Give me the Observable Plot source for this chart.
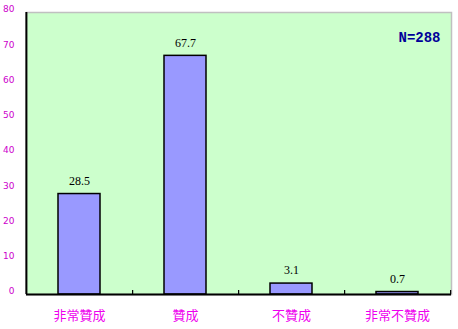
<!DOCTYPE html>
<html><head><meta charset="utf-8">
<script src="https://cdn.jsdelivr.net/npm/d3@7"></script>
<script src="https://cdn.jsdelivr.net/npm/@observablehq/plot@0.6"></script>
<style>body{margin:0;background:#fff}</style>
</head><body><div id="chart"></div>
<script>
const categories = ["非常贊成", "贊成", "不贊成", "非常不贊成"];
const values = [28.5, 67.7, 3.1, 0.7];
const yTicks = [0, 10, 20, 30, 40, 50, 60, 70, 80];
const note = "N=288";

const data = categories.map((c, i) => ({cat: c, value: values[i]}));

const chart = Plot.plot({
  width: 458, height: 329,
  marginLeft: 26, marginRight: 7, marginTop: 12, marginBottom: 35,
  style: {background: "#fff", overflow: "visible"},
  x: {domain: categories, paddingInner: 0.6, paddingOuter: 0.3, label: null},
  y: {domain: [0, 80], label: null},
  marks: [
    Plot.frame({fill: "#ccffcc", stroke: "#c0c0c0", strokeWidth: 1.5}),
    Plot.barY(data, {x: "cat", y: "value", fill: "#9999ff", stroke: "#000", strokeWidth: 1.5}),
    Plot.ruleX([categories[0]], {dx: -53.125, stroke: "#000", strokeWidth: 2}),
    Plot.ruleX(categories, {dx: 53.125, y1: 0, y2: 1.1, stroke: "#000", strokeWidth: 1.2}),
    Plot.ruleY([0], {stroke: "#000", strokeWidth: 2}),
    Plot.axisY({ticks: yTicks, tickSize: 0, tickPadding: 12, dy: -3, fill: "#cc00cc", fontSize: 9, fontFamily: "DejaVu Sans", label: null}),
    Plot.axisX({tickSize: 0, tickPadding: 16, fill: "#ee00ee", fontSize: 13, fontFamily: "Noto Sans CJK TC", label: null}),
    Plot.text(data, {x: "cat", y: "value", text: d => d.value.toFixed(1), dy: -13, fontSize: 12, fontFamily: "Liberation Serif", fill: "#000"}),
    Plot.text([note], {frameAnchor: "top-right", dx: -11, dy: 20, textAnchor: "end", fontSize: 14, fontWeight: "bold", fontFamily: "Liberation Mono", fill: "#000099"})
  ]
});
document.getElementById("chart").appendChild(chart);
</script>
</body></html>
